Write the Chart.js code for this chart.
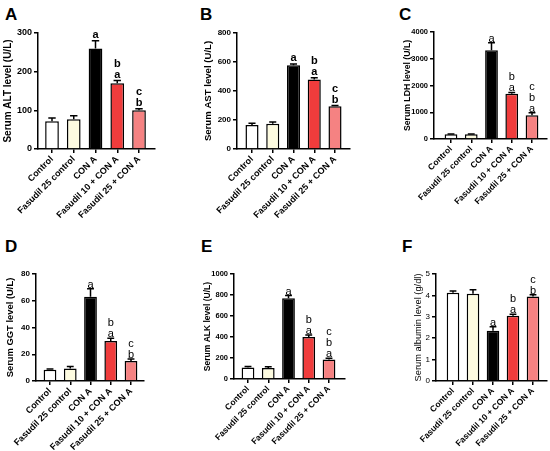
<!DOCTYPE html>
<html>
<head>
<meta charset="utf-8">
<script src="https://cdn.jsdelivr.net/npm/chart.js@4.4.1/dist/chart.umd.min.js"></script>
<style>
body { margin: 0; background: #fff; width: 550px; height: 451px; position: relative; overflow: hidden; font-family: Arial, "Liberation Sans", sans-serif; }
canvas { position: absolute; }
.tag { position: absolute; font-weight: bold; font-size: 17px; line-height: 1; color: #000; }
</style>
</head>
<body>
<div class="tag" style="left:5px;top:6px">A</div>
<div class="tag" style="left:200px;top:6px">B</div>
<div class="tag" style="left:399px;top:6px">C</div>
<div class="tag" style="left:5px;top:238px">D</div>
<div class="tag" style="left:201px;top:238px">E</div>
<div class="tag" style="left:402px;top:238px">F</div>

<canvas id="chartA"></canvas>
<canvas id="chartB"></canvas>
<canvas id="chartC"></canvas>
<canvas id="chartD"></canvas>
<canvas id="chartE"></canvas>
<canvas id="chartF"></canvas>

<script>
// groups on the x axis (same for every panel)
const groups = ['Control', 'Fasudil 25 control', 'CON A', 'Fasudil 10 + CON A', 'Fasudil 25 + CON A'];
const fills = ['#ffffff', '#fdfbe0', '#000000', '#f03c3c', '#f58282'];

// A - ALT
const altMean = [72, 77, 260, 170, 100];
const altErr = [8, 9, 20, 7, 4];
const altLetters = [[], [], ['a'], ['b', 'a'], ['c', 'b']];
// B - AST
const astMean = [165, 175, 578, 480, 295];
const astErr = [12, 12, 8, 12, 5];
const astLetters = [[], [], ['a'], ['b', 'a'], ['c', 'b']];
// C - LDH
const ldhMean = [175, 175, 3320, 1690, 890];
const ldhErr = [15, 15, 280, 50, 90];
const ldhLetters = [[], [], ['a'], ['b', 'a'], ['c', 'b', 'a']];
// D - GGT
const ggtMean = [8.5, 9.3, 63, 30, 15];
const ggtErr = [0.5, 1.5, 6, 2, 1.5];
const ggtLetters = [[], [], ['a'], ['b', 'a'], ['c', 'b']];
// E - ALK
const alkMean = [110, 105, 770, 400, 185];
const alkErr = [8, 12, 25, 20, 12];
const alkLetters = [[], [], ['a'], ['b', 'a'], ['c', 'b', 'a']];
// F - albumin
const albMean = [4.12, 4.08, 2.35, 3.05, 3.95];
const albErr = [0.08, 0.18, 0.18, 0.07, 0.08];
const albLetters = [[], [], ['a'], ['b', 'a'], ['c', 'b']];

Chart.defaults.color = '#000';
Chart.defaults.font.family = 'Arial, "Liberation Sans", sans-serif';

// draws the SEM whisker above each bar and the significance letters
const errorBars = {
    id: 'errorBars',
    afterDatasetsDraw(chart, args, opts) {
        const ctx = chart.ctx;
        const y = chart.scales.y;
        const meta = chart.getDatasetMeta(0);
        ctx.save();
        meta.data.forEach((bar, i) => {
            const top = y.getPixelForValue(opts.mean[i] + opts.err[i]);
            const half = bar.width * 0.27;
            ctx.strokeStyle = '#000';
            ctx.lineWidth = 1.5;
            ctx.beginPath();
            ctx.moveTo(bar.x, bar.y);
            ctx.lineTo(bar.x, top);
            ctx.moveTo(bar.x - half, top);
            ctx.lineTo(bar.x + half, top);
            ctx.stroke();

            ctx.fillStyle = '#000';
            ctx.font = opts.letterFont;
            ctx.textAlign = 'center';
            ctx.textBaseline = 'alphabetic';
            const list = opts.letters[i].slice().reverse();
            list.forEach((t, k) => ctx.fillText(t, bar.x, top - opts.gap - k * 11));
        });
        ctx.restore();
    }
};

function makePanel(id, p, mean, err, letters) {
    const canvas = document.getElementById(id);
    canvas.width = p.w;
    canvas.height = p.h;
    canvas.style.left = p.left + 'px';
    canvas.style.top = p.top + 'px';

    const spacing = (p.last - p.first) / 4;
    const xmin = -(p.first - p.axisX) / spacing;
    const xmax = 4 + (p.end - p.last) / spacing;
    const yWidth = p.titleDist + p.titleSize * 0.6;
    const weight = p.bold ? 'bold' : 'normal';

    return new Chart(canvas, {
        type: 'bar',
        data: {
            datasets: [{
                data: mean.map((v, i) => ({ x: i, y: v })),
                backgroundColor: fills,
                borderColor: '#000',
                borderWidth: 1.5,
                borderSkipped: 'bottom',
                barPercentage: 0.63,
                categoryPercentage: 1
            }]
        },
        options: {
            responsive: false,
            animation: false,
            layout: {
                padding: {
                    left: p.axisX - p.left - yWidth,
                    top: p.plotTop - p.top,
                    right: p.left + p.w - p.end,
                    bottom: 0
                }
            },
            plugins: {
                legend: { display: false },
                tooltip: { enabled: false },
                errorBars: {
                    mean: mean,
                    err: err,
                    letters: letters,
                    gap: p.letterBold ? 3 : 1,
                    letterFont: (p.letterBold ? 'bold ' : '') + '11px Arial, "Liberation Sans", sans-serif'
                }
            },
            scales: {
                x: {
                    type: 'linear',
                    min: xmin,
                    max: xmax,
                    offset: false,
                    afterFit(s) { s.height = p.top + p.h - p.plotBottom; },
                    grid: { drawOnChartArea: false, drawTicks: true, tickLength: 4, color: '#000', lineWidth: 1.5, offset: false },
                    border: { color: '#000', width: 1.5 },
                    ticks: {
                        stepSize: 1,
                        includeBounds: false,
                        autoSkip: false,
                        minRotation: 45,
                        maxRotation: 45,
                        padding: 1,
                        font: { size: p.xSize, weight: 'bold' },
                        callback: v => (Number.isInteger(v) && groups[v]) ? groups[v] : ''
                    }
                },
                y: {
                    min: 0,
                    max: p.max,
                    afterFit(s) { s.width = yWidth; },
                    grid: { drawOnChartArea: false, drawTicks: true, tickLength: 4, color: '#000', lineWidth: 1.5 },
                    border: { color: '#000', width: 1.5 },
                    ticks: { stepSize: p.step, padding: 2, font: { size: p.tickSize, weight: weight }, callback: v => String(v) },
                    title: { display: true, text: p.title, padding: 0, font: { size: p.titleSize, weight: weight } }
                }
            }
        },
        plugins: [errorBars]
    });
}

makePanel('chartA', { left: 0, top: 0, w: 183, h: 225, axisX: 38, first: 52, last: 139, end: 155, plotTop: 33, plotBottom: 149, max: 300, step: 100, titleDist: 30, titleSize: 10, tickSize: 9, xSize: 9, bold: true, letterBold: true, title: 'Serum ALT level (U/L)' }, altMean, altErr, altLetters);
makePanel('chartB', { left: 183, top: 0, w: 183, h: 225, axisX: 237, first: 252, last: 335, end: 350, plotTop: 33, plotBottom: 149, max: 800, step: 200, titleDist: 29, titleSize: 9.6, tickSize: 8, xSize: 9, bold: true, letterBold: true, title: 'Serum AST level (U/L)' }, astMean, astErr, astLetters);
makePanel('chartC', { left: 366, top: 0, w: 184, h: 225, axisX: 434, first: 451, last: 532, end: 547, plotTop: 32, plotBottom: 139, max: 4000, step: 1000, titleDist: 26, titleSize: 8.7, tickSize: 7.5, xSize: 8.5, bold: true, letterBold: false, title: 'Serum LDH level (U/L)' }, ldhMean, ldhErr, ldhLetters);
makePanel('chartD', { left: 0, top: 225, w: 183, h: 226, axisX: 36, first: 50, last: 131, end: 144, plotTop: 274, plotBottom: 381, max: 80, step: 20, titleDist: 26, titleSize: 9.4, tickSize: 8, xSize: 9, bold: true, letterBold: false, title: 'Serum GGT level (U/L)' }, ggtMean, ggtErr, ggtLetters);
makePanel('chartE', { left: 183, top: 225, w: 183, h: 226, axisX: 234, first: 248, last: 329, end: 345, plotTop: 274, plotBottom: 379, max: 1000, step: 200, titleDist: 26, titleSize: 8.5, tickSize: 7.5, xSize: 8.5, bold: true, letterBold: false, title: 'Serum ALK level (U/L)' }, alkMean, alkErr, alkLetters);
makePanel('chartF', { left: 366, top: 225, w: 184, h: 226, axisX: 436, first: 453, last: 533, end: 547, plotTop: 274, plotBottom: 381, max: 5, step: 1, titleDist: 18, titleSize: 9.3, tickSize: 8, xSize: 8.5, bold: false, letterBold: false, title: 'Serum albumin level (g/dl)' }, albMean, albErr, albLetters);
</script>
</body>
</html>
